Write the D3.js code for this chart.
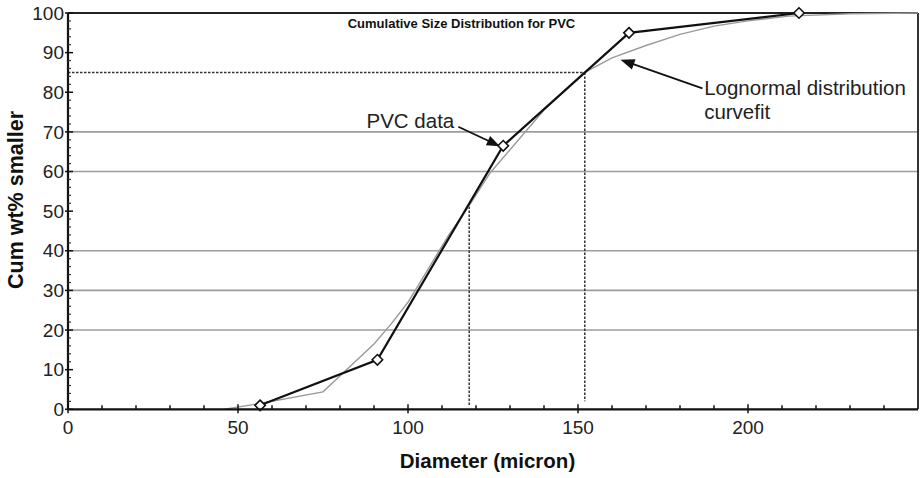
<!DOCTYPE html>
<html lang="en">
<head>
<meta charset="UTF-8">
<title>Cumulative Size Distribution for PVC</title>
<script src="https://cdnjs.cloudflare.com/ajax/libs/d3/7.8.5/d3.min.js"></script>
<style>
    body { margin: 0; background: #fff; }
    svg { display: block; font-family: Arial, "Liberation Sans", sans-serif; }
</style>
</head>
<body>
<svg width="924" height="478"></svg>
<script>
    // measured PVC points (diamonds)
    const pvcDiameter = [56.5, 91, 128, 165, 215];
    const pvcWtPct = [1, 12.5, 66.5, 95, 100];

    // lognormal curvefit
    const fitDiameter = [46, 56, 75, 90, 95, 100, 106, 112, 118, 124, 130, 140, 152, 160, 170, 180, 190, 200, 212, 230, 250];
    const fitWtPct = [0, 1.4, 4.4, 16.5, 21.5, 27, 35.5, 44, 51.4, 59.5, 65.5, 75.5, 85, 88.7, 91.8, 94.6, 96.7, 98, 99.2, 99.8, 100];

    const xTickLabels = [0, 50, 100, 150, 200];
    const yTickLabels = [0, 10, 20, 30, 40, 50, 60, 70, 80, 90, 100];
    const gridValues = [20, 30, 40, 60, 70];

    // dotted guides: d50 and d85
    const d50 = 118, d50Top = 51.2;
    const d85 = 152, pct85 = 85;

    const svg = d3.select("svg");
    const x = d3.scaleLinear().domain([0, 250]).range([68, 918]);
    const y = d3.scaleLinear().domain([0, 100]).range([409.3, 13]);

    // grid
    svg.append("g").selectAll("line")
        .data(gridValues)
        .join("line")
        .attr("x1", x(0)).attr("x2", x(250))
        .attr("y1", d => y(d)).attr("y2", d => y(d))
        .attr("stroke", "#9c9c9c").attr("stroke-width", 1.6);

    // dotted guide lines
    const dotted = svg.append("g")
        .attr("stroke", "#333").attr("stroke-width", 1.5).attr("stroke-dasharray", "2.5,1.5");
    dotted.append("line")
        .attr("x1", x(0)).attr("x2", x(d85))
        .attr("y1", y(pct85)).attr("y2", y(pct85));
    dotted.append("line")
        .attr("x1", x(d85)).attr("x2", x(d85))
        .attr("y1", y(pct85)).attr("y2", y(2));
    dotted.append("line")
        .attr("x1", x(d50)).attr("x2", x(d50))
        .attr("y1", y(d50Top)).attr("y2", y(0.7));

    // frame
    svg.append("line").attr("x1", x(0)).attr("x2", x(250)).attr("y1", y(100)).attr("y2", y(100))
        .attr("stroke", "#222").attr("stroke-width", 2);
    svg.append("line").attr("x1", x(250)).attr("x2", x(250)).attr("y1", y(100)).attr("y2", y(0))
        .attr("stroke", "#333").attr("stroke-width", 2);

    // curvefit
    const line = d3.line().x(d => x(d[0])).y(d => y(d[1]));
    svg.append("path")
        .attr("d", line(d3.zip(fitDiameter, fitWtPct)))
        .attr("fill", "none").attr("stroke", "#9a9a9a").attr("stroke-width", 1.4);

    // data line
    svg.append("path")
        .attr("d", line(d3.zip(pvcDiameter, pvcWtPct)))
        .attr("fill", "none").attr("stroke", "#111").attr("stroke-width", 2.2);

    svg.append("g").selectAll("path")
        .data(d3.zip(pvcDiameter, pvcWtPct))
        .join("path")
        .attr("transform", d => `translate(${x(d[0])},${y(d[1])})`)
        .attr("d", d3.symbol(d3.symbolDiamond2, 70))
        .attr("fill", "#fff").attr("stroke", "#111").attr("stroke-width", 1.6);

    // axes
    svg.append("line").attr("x1", x(0)).attr("x2", x(250)).attr("y1", y(0)).attr("y2", y(0))
        .attr("stroke", "#111").attr("stroke-width", 2.2);
    svg.append("line").attr("x1", x(0)).attr("x2", x(0)).attr("y1", y(0)).attr("y2", y(100))
        .attr("stroke", "#111").attr("stroke-width", 2.2);

    const xMinor = d3.range(10, 250, 10).filter(v => v % 50 !== 0);
    svg.append("g").selectAll("line")
        .data(xMinor)
        .join("line")
        .attr("x1", d => x(d)).attr("x2", d => x(d))
        .attr("y1", y(0)).attr("y2", y(0) - 4)
        .attr("stroke", "#111").attr("stroke-width", 1.5);
    svg.append("g").selectAll("line")
        .data(xTickLabels)
        .join("line")
        .attr("x1", d => x(d)).attr("x2", d => x(d))
        .attr("y1", y(0) - 5).attr("y2", y(0) + 4)
        .attr("stroke", "#111").attr("stroke-width", 1.5);

    const yMinor = d3.range(2, 100, 2).filter(v => v % 10 !== 0);
    svg.append("g").selectAll("line")
        .data(yMinor)
        .join("line")
        .attr("x1", x(0)).attr("x2", x(0) + 3)
        .attr("y1", d => y(d)).attr("y2", d => y(d))
        .attr("stroke", "#333").attr("stroke-width", 1.2);
    svg.append("g").selectAll("line")
        .data(yTickLabels)
        .join("line")
        .attr("x1", x(0) - 3).attr("x2", x(0) + 5)
        .attr("y1", d => y(d)).attr("y2", d => y(d))
        .attr("stroke", "#111").attr("stroke-width", 1.5);

    svg.append("g").selectAll("text")
        .data(xTickLabels)
        .join("text")
        .attr("x", d => x(d)).attr("y", 433.5)
        .attr("text-anchor", "middle")
        .attr("font-size", 19).attr("fill", "#222")
        .text(d => d);

    svg.append("g").selectAll("text")
        .data(yTickLabels)
        .join("text")
        .attr("x", 64).attr("y", d => y(d)).attr("dy", "0.35em")
        .attr("text-anchor", "end")
        .attr("font-size", 19).attr("fill", "#222")
        .text(d => d);

    // titles
    svg.append("text")
        .attr("x", 461.5).attr("y", 27.5)
        .attr("text-anchor", "middle")
        .attr("font-size", 13).attr("font-weight", "bold").attr("fill", "#111")
        .text("Cumulative Size Distribution for PVC");

    svg.append("text")
        .attr("x", 487.5).attr("y", 468)
        .attr("text-anchor", "middle")
        .attr("font-size", 20.5).attr("font-weight", "bold").attr("fill", "#111")
        .text("Diameter (micron)");

    svg.append("text")
        .attr("transform", "translate(23,200) rotate(-90)")
        .attr("text-anchor", "middle")
        .attr("font-size", 21.5).attr("font-weight", "bold").attr("fill", "#111")
        .text("Cum wt% smaller");

    // annotations, placed in data units
    function arrow(from, to, headLen, headHalf) {
        const x0 = x(from[0]), y0 = y(from[1]), x1 = x(to[0]), y1 = y(to[1]);
        const len = Math.hypot(x1 - x0, y1 - y0);
        const ux = (x1 - x0) / len, uy = (y1 - y0) / len;
        const bx = x1 - ux * headLen, by = y1 - uy * headLen;
        svg.append("line")
            .attr("x1", x0).attr("y1", y0).attr("x2", bx + ux * 2).attr("y2", by + uy * 2)
            .attr("stroke", "#111").attr("stroke-width", 1.8);
        svg.append("path")
            .attr("d", `M${x1},${y1}L${bx - uy * headHalf},${by + ux * headHalf}L${bx + uy * headHalf},${by - ux * headHalf}Z`)
            .attr("fill", "#111");
    }

    svg.append("text")
        .attr("x", x(87.8)).attr("y", y(71))
        .attr("font-size", 20.5).attr("fill", "#222")
        .text("PVC data");
    arrow([114.8, 71.3], [127, 66.4], 13, 5);

    const lognormal = svg.append("text")
        .attr("x", x(187.1)).attr("y", y(79.4))
        .attr("font-size", 20.5).attr("fill", "#222");
    lognormal.append("tspan").text("Lognormal distribution");
    lognormal.append("tspan").attr("x", x(187.1)).attr("dy", 24.5).text("curvefit");
    arrow([186.6, 81], [162.5, 88.2], 14, 5.5);
</script>
</body>
</html>
